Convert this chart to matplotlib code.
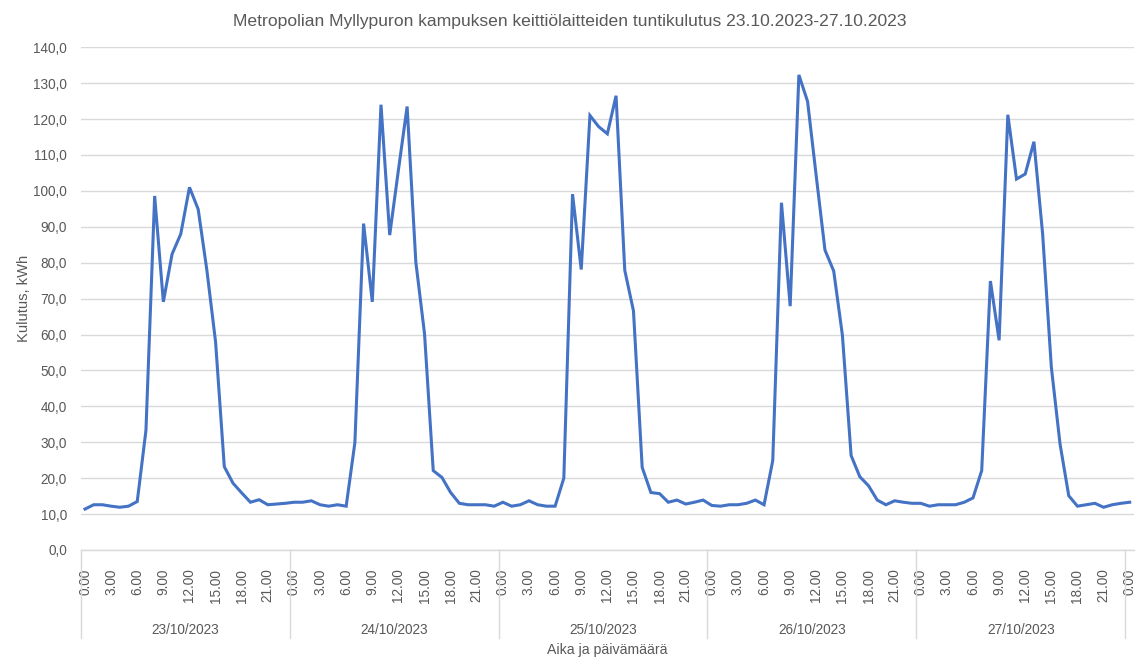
import matplotlib
matplotlib.use("Agg")
import matplotlib.pyplot as plt

plt.rcParams['font.family'] = ['Liberation Sans', 'DejaVu Sans']

# Hourly consumption (kWh), 0:00-23:00 for each day
kulutus_23_10 = [11.4, 12.6, 12.6, 12.2, 11.9, 12.2, 13.5, 33.3, 98.6, 69.1, 82.4, 88.0,
                 101.0, 94.9, 77.9, 57.9, 23.2, 18.6, 15.9, 13.3, 14.0, 12.6, 12.8, 13.0]
kulutus_24_10 = [13.3, 13.3, 13.7, 12.6, 12.2, 12.6, 12.2, 29.9, 90.9, 69.1, 124.0, 87.7,
                 105.8, 123.5, 80.2, 60.2, 22.1, 20.2, 16.0, 13.0, 12.6, 12.6, 12.6, 12.2]
kulutus_25_10 = [13.3, 12.2, 12.6, 13.7, 12.6, 12.2, 12.2, 20.0, 99.1, 78.1, 121.0, 117.9,
                 115.9, 126.5, 77.9, 66.6, 23.0, 16.0, 15.7, 13.3, 13.9, 12.8, 13.3, 13.9]
kulutus_26_10 = [12.4, 12.2, 12.6, 12.6, 13.0, 13.9, 12.6, 24.9, 96.7, 67.9, 132.3, 124.9,
                 104.0, 83.5, 77.7, 59.8, 26.3, 20.4, 17.9, 13.9, 12.6, 13.7, 13.3, 13.0]
kulutus_27_10 = [13.0, 12.2, 12.6, 12.6, 12.6, 13.3, 14.5, 22.1, 74.9, 58.4, 121.2, 103.3,
                 104.7, 113.7, 88.0, 50.9, 29.5, 15.1, 12.2, 12.6, 13.0, 11.9, 12.6, 13.0]
kulutus_28_10_0 = [13.3]

days = ['23/10/2023', '24/10/2023', '25/10/2023', '26/10/2023', '27/10/2023']
hour_labels = ['0.00', '3.00', '6.00', '9.00', '12.00', '15.00', '18.00', '21.00']

values = kulutus_23_10 + kulutus_24_10 + kulutus_25_10 + kulutus_26_10 + kulutus_27_10 + kulutus_28_10_0
x = list(range(len(values)))

text_color = '#595959'
grid_color = '#d9d9d9'

fig = plt.figure(figsize=(11.44, 6.62), dpi=100)
ax = fig.add_axes([0.0705, 0.1692, 0.9208, 0.7594])

ax.plot(x, values, color='#4472C4', linewidth=2.2, solid_joinstyle='miter')

ax.set_xlim(-0.5, len(values) - 0.5)
ax.set_ylim(0, 140)
ax.set_yticks(range(0, 141, 10))
ax.set_yticklabels([f'{v},0' for v in range(0, 141, 10)])
ax.yaxis.grid(True, color=grid_color, linewidth=1)
ax.set_axisbelow(True)

for s in ['top', 'right', 'left']:
    ax.spines[s].set_visible(False)
ax.spines['bottom'].set_color(grid_color)
ax.spines['bottom'].set_linewidth(1)

tick_pos = list(range(0, len(values), 3))
tick_lab = (hour_labels * len(days)) + ['0.00']
ax.set_xticks(tick_pos)
ax.set_xticklabels(tick_lab, rotation=90, va='top', ha='center')
ax.tick_params(axis='x', length=0, pad=13.5, labelsize=9.8, labelcolor=text_color)
ax.tick_params(axis='y', length=0, pad=10, labelsize=9.8, labelcolor=text_color)

# day group separators and labels
trans = ax.get_xaxis_transform()
for k in range(len(days) + 1):
    ax.plot([24 * k - 0.5] * 2, [0, -0.175], transform=trans, color=grid_color,
            linewidth=1, clip_on=False)
for k, d in enumerate(days):
    ax.text(24 * k + 11.5, -0.159, d, transform=trans, ha='center', va='center',
            fontsize=9.8, color=text_color)

fig.text(0.498, 0.968, 'Metropolian Myllypuron kampuksen keittiölaitteiden tuntikulutus 23.10.2023-27.10.2023',
         ha='center', va='center', fontsize=12.6, color=text_color)
ax.set_ylabel('Kulutus, kWh', fontsize=10.6, color=text_color)
ax.yaxis.set_label_coords(-0.0475, 0.5)
fig.text(0.5308, 1 - 650 / 662, 'Aika ja päivämäärä', ha='center', va='center',
         fontsize=10.2, color=text_color)

fig.savefig('out.png', dpi=100)
